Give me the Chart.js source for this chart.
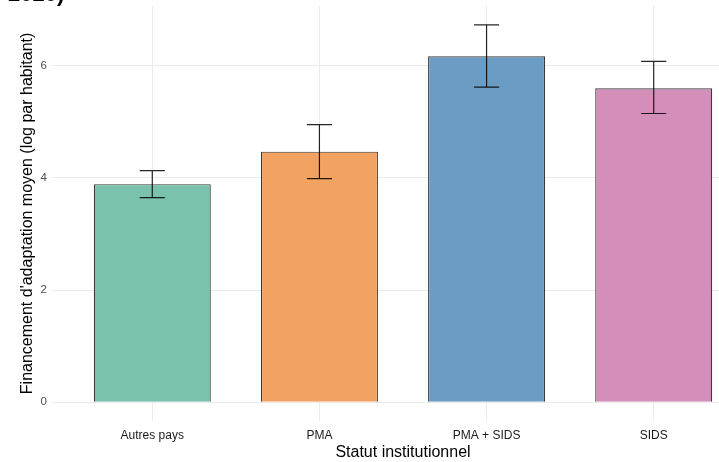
<!DOCTYPE html>
<html>
<head>
<meta charset="utf-8">
<script src="https://cdn.jsdelivr.net/npm/chart.js@4/dist/chart.umd.min.js"></script>
<style>
  html, body { margin: 0; padding: 0; background: #fff; overflow: hidden; }
  #wrap { position: relative; width: 719px; height: 462px; overflow: hidden; }
  #title { position: absolute; left: 8px; top: -19px; font: bold 22px "Liberation Sans", Arial, sans-serif; color: #000; }
  canvas { position: absolute; left: 0; top: -6px; }
</style>
</head>
<body>
<div id="wrap">
  <canvas id="statutChart" width="760" height="468"></canvas>
  <div id="title">2020)</div>
</div>
<script>
const categories = ['Autres pays', 'PMA', 'PMA + SIDS', 'SIDS'];
const means = [3.89, 4.47, 6.17, 5.60];
const errLow = [3.65, 3.99, 5.62, 5.15];
const errHigh = [4.13, 4.95, 6.73, 6.08];
const barColors = ['#7ac2ad', '#f2a261', '#6b9cc4', '#d38fba'];
const yTicks = [0, 2, 4, 6];

const font = '"Liberation Sans", Arial, sans-serif';
function gridColor() { return '#ebebeb'; }

const errorBars = {
  id: 'errorBars',
  afterDatasetsDraw(chart) {
    const { ctx, scales: { x, y } } = chart;
    ctx.save();
    ctx.strokeStyle = 'rgba(0,0,0,0.85)';
    ctx.lineWidth = 1.2;
    categories.forEach((c, i) => {
      const px = x.getPixelForValue(i);
      const half = (x.getPixelForValue(i + 0.075) - x.getPixelForValue(i - 0.075)) / 2;
      const top = y.getPixelForValue(errHigh[i]);
      const bot = y.getPixelForValue(errLow[i]);
      ctx.beginPath();
      ctx.moveTo(px, top); ctx.lineTo(px, bot);
      ctx.moveTo(px - half, top); ctx.lineTo(px + half, top);
      ctx.moveTo(px - half, bot); ctx.lineTo(px + half, bot);
      ctx.stroke();
    });
    ctx.restore();
  }
};

new Chart(document.getElementById('statutChart').getContext('2d'), {
  type: 'bar',
  data: {
    datasets: [{
      data: means.map((v, i) => ({ x: i, y: v })),
      backgroundColor: barColors,
      borderColor: 'rgba(0,0,0,0.78)',
      borderWidth: 1.2,
      categoryPercentage: 0.7,
      barPercentage: 1
    }]
  },
  options: {
    responsive: false,
    animation: false,
    layout: { autoPadding: false, padding: { top: 5, right: 6, left: 0, bottom: 0 } },
    plugins: { legend: { display: false }, tooltip: { enabled: false } },
    scales: {
      x: {
        type: 'linear',
        min: -0.6,
        max: 3.6,
        offset: false,
        afterBuildTicks: s => { s.ticks = categories.map((c, i) => ({ value: i })); },
        afterFit: s => { s.height = 41; },
        ticks: {
          color: '#1a1a1a',
          font: { family: font, size: 12 },
          padding: 7,
          autoSkip: false,
          maxRotation: 0,
          callback: v => categories[v]
        },
        grid: { color: gridColor(), drawTicks: false, offset: false },
        border: { display: false },
        title: {
          display: true,
          text: 'Statut institutionnel',
          color: '#000',
          font: { family: font, size: 16 },
          padding: { top: 1, bottom: 0 }
        }
      },
      y: {
        min: -0.336,
        max: 7.07,
        afterBuildTicks: s => { s.ticks = yTicks.map(v => ({ value: v })); },
        afterFit: s => { s.width = 52; },
        ticks: {
          color: '#4d4d4d',
          font: { family: font, size: 11.5 },
          padding: 5
        },
        grid: { color: gridColor(), drawTicks: false },
        border: { display: false },
        title: {
          display: true,
          text: "Financement d'adaptation moyen (log par habitant)",
          color: '#000',
          font: { family: font, size: 16 },
          padding: { top: 17.5, bottom: 3 }
        }
      }
    }
  },
  plugins: [errorBars]
});
</script>
</body>
</html>
